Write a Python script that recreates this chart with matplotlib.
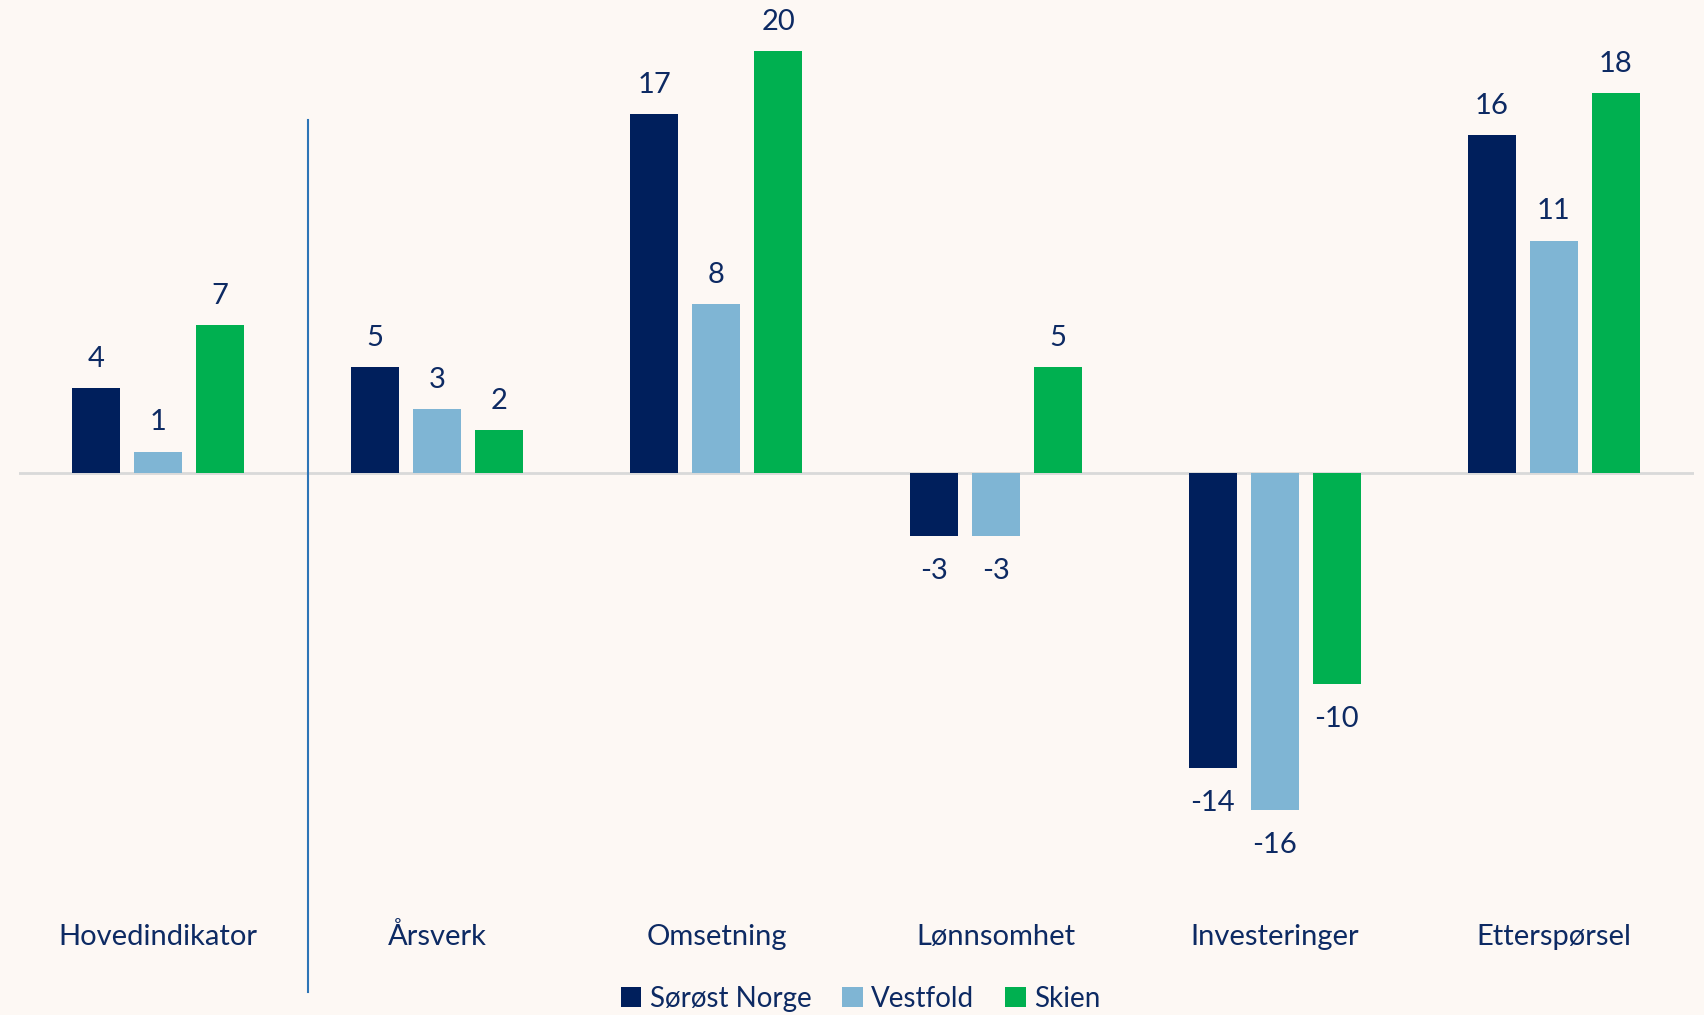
import numpy as np
import matplotlib
matplotlib.use("Agg")
import matplotlib.pyplot as plt
from matplotlib.patches import Patch

categories = ["Hovedindikator", "Årsverk", "Omsetning", "Lønnsomhet", "Investeringer", "Etterspørsel"]
series_names = ["Sørøst Norge", "Vestfold", "Skien"]
sorost = [4, 5, 17, -3, -14, 16]
vestfold = [1, 3, 8, -3, -16, 11]
skien = [7, 2, 20, 5, -10, 18]

colors = ["#001F5C", "#7FB5D4", "#00B050"]
text_color = "#0D2A63"
bg = "#FDF8F4"

plt.rcParams["font.family"] = ["Lato", "DejaVu Sans"]

fig = plt.figure(figsize=(17.04, 10.15), dpi=100, facecolor=bg)
ax = fig.add_axes([18.5 / 1704, 0, 1675 / 1704, 1])
ax.set_facecolor(bg)

x = np.arange(len(categories))
width = 0.172
step = 0.222
for i, (vals, col) in enumerate(zip([sorost, vestfold, skien], colors)):
    pos = x + (i - 1) * step
    ax.bar(pos, vals, width=width, color=col, zorder=3)
    for p, v in zip(pos, vals):
        if v >= 0:
            ax.text(p, v + 1.0, str(v), ha="center", va="baseline",
                    fontsize=21, color=text_color)
        else:
            ax.text(p, v - 1.65, str(v), ha="center", va="center",
                    fontsize=21, color=text_color)

ax.set_xlim(-0.5, len(categories) - 0.5)
ax.set_ylim(-25.7, 22.4)
ax.axhline(0, color="#D9D9D9", lw=2, zorder=2)

# divider between main indicator and sub-indicators
ax.plot([0.537, 0.537], [16.7, -24.6], color="#2E75B6", lw=1.5, zorder=2)

for xi, cat in zip(x, categories):
    ax.text(xi, -22.0, cat, ha="center", va="center", fontsize=21, color=text_color)

ax.axis("off")

handles = [Patch(facecolor=c, edgecolor="none") for c in colors]
fig.legend(handles, series_names, loc="center", bbox_to_anchor=(0.505, 1 - 999 / 1015),
           ncol=3, frameon=False, fontsize=20, labelcolor=text_color,
           handlelength=0.75, handleheight=0.75, handletextpad=0.3, columnspacing=1.1)

fig.savefig("out.png", dpi=100, facecolor=bg)
